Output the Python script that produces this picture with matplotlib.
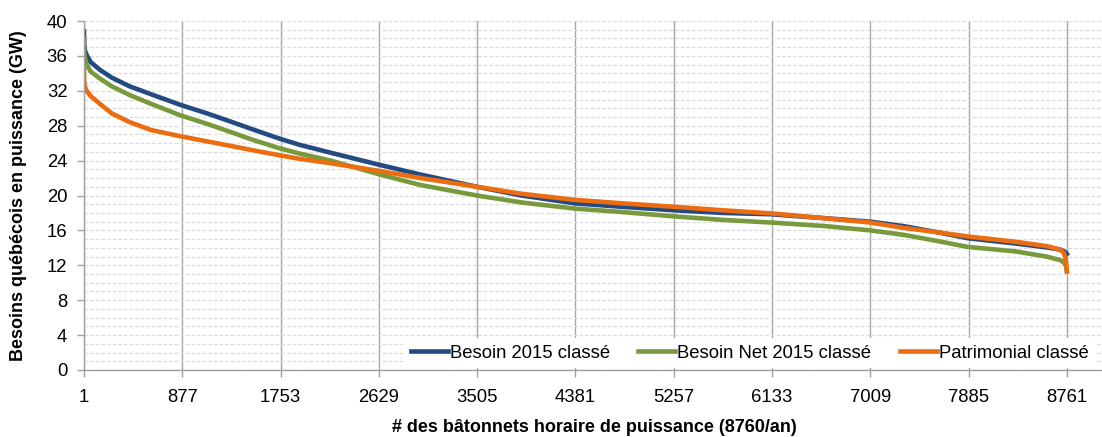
"""
Courbes classées des besoins en puissance du Québec (2015)
"""

from matplotlib import pyplot as plt

plt.rcParams['font.family'] = ['Liberation Sans', 'DejaVu Sans']

fontsize = 13.3

# heures classées (rang du bâtonnet horaire)
heures = [1, 3, 10, 25, 60, 143, 250, 410, 600, 857, 1100, 1302, 1500, 1747,
          1925, 2200, 2639, 3000, 3503, 3900, 4376, 4800, 5267, 5700, 6126,
          6600, 7011, 7300, 7600, 7879, 8300, 8579, 8700, 8735, 8752, 8760]

besoin_2015 = [38.8, 37.3, 36.6, 36.1, 35.3, 34.4, 33.5, 32.5, 31.6, 30.4,
               29.4, 28.5, 27.6, 26.5, 25.8, 24.9, 23.5, 22.4, 21.0, 20.0,
               19.1, 18.7, 18.3, 18.0, 17.85, 17.4, 17.0, 16.5, 15.8, 15.1,
               14.5, 14.05, 13.8, 13.6, 13.45, 13.3]

besoin_net_2015 = [37.9, 36.6, 35.7, 35.0, 34.2, 33.4, 32.5, 31.5, 30.5, 29.2,
                   28.2, 27.3, 26.4, 25.4, 24.8, 24.0, 22.4, 21.2, 20.0, 19.2,
                   18.5, 18.1, 17.6, 17.2, 16.9, 16.5, 16.0, 15.5, 14.8, 14.1,
                   13.6, 13.0, 12.6, 12.3, 11.9, 11.3]

patrimonial = [34.4, 33.0, 32.4, 32.0, 31.4, 30.5, 29.4, 28.4, 27.5, 26.8,
               26.2, 25.7, 25.2, 24.6, 24.2, 23.7, 22.8, 22.0, 21.0, 20.2,
               19.5, 19.1, 18.7, 18.3, 17.95, 17.4, 16.9, 16.3, 15.8, 15.3,
               14.7, 14.2, 13.8, 13.4, 12.5, 11.3]

x_ticks = [1, 877, 1753, 2629, 3505, 4381, 5257, 6133, 7009, 7885, 8761]
y_ticks = list(range(0, 41, 4))


def plot():
    fig = plt.figure(figsize=(11.02, 4.37), dpi=100)
    ax = fig.add_axes([84 / 1102, 1 - 370 / 437, 1020 / 1102, 349 / 437])

    ax.plot(heures, besoin_2015, color='#234a82', lw=3.3, label='Besoin 2015 classé')
    ax.plot(heures, besoin_net_2015, color='#789a3c', lw=3.3, label='Besoin Net 2015 classé')
    ax.plot(heures, patrimonial, color='#ec6c10', lw=3.3, label='Patrimonial classé')

    ax.set_xlim(1, 9091)
    ax.set_ylim(0, 40)
    ax.set_xticks(x_ticks)
    ax.set_yticks(y_ticks)
    ax.set_yticks(range(0, 41), minor=True)

    # quadrillage
    ax.set_axisbelow(True)
    ax.grid(axis='y', which='both', color='#dcdcdc', lw=0.9, ls=(0, (3, 1.5)))
    ax.grid(axis='x', which='major', color='#a6a6a6', lw=1.0, ls='-')

    for side in ['top', 'right']:
        ax.spines[side].set_visible(False)
    for side in ['left', 'bottom']:
        ax.spines[side].set_color('#a0a0a0')
        ax.spines[side].set_linewidth(1.0)

    ax.tick_params(axis='both', which='major', labelsize=fontsize, color='#a0a0a0',
                   length=5, width=1.0)
    ax.tick_params(axis='x', pad=9)
    ax.tick_params(axis='y', pad=7)
    ax.tick_params(axis='y', which='minor', length=0)

    ax.set_xlabel('# des bâtonnets horaire de puissance (8760/an)',
                  fontsize=13, fontweight='bold', va='center')
    ax.xaxis.set_label_coords(0.5, -0.166)
    ax.set_ylabel('Besoins québécois en puissance (GW)',
                  fontsize=13, fontweight='bold', va='center')
    ax.yaxis.set_label_coords(-0.0647, 0.5)

    leg = ax.legend(loc='center left', bbox_to_anchor=(0.314, 0.0487), ncol=3,
                    fontsize=fontsize, frameon=True, facecolor='white',
                    edgecolor='none', framealpha=1, fancybox=False,
                    handlelength=2.0, handletextpad=0.1, columnspacing=1.55,
                    borderpad=0.35, borderaxespad=0)
    for line in leg.get_lines():
        line.set_linewidth(3.3)

    plt.savefig('out.png', dpi=100)


plot()
